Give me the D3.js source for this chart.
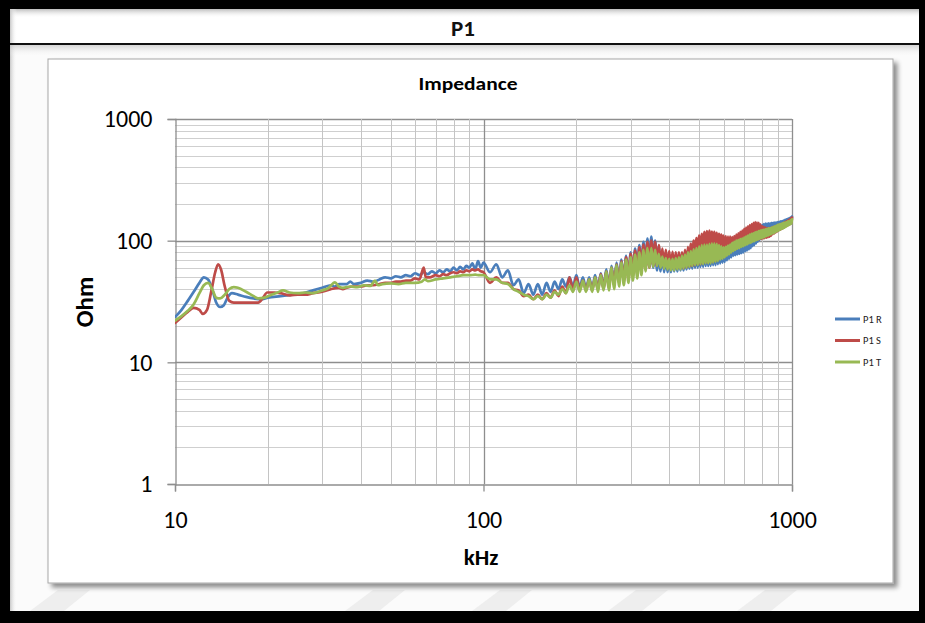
<!DOCTYPE html>
<html>
<head>
<meta charset="utf-8">
<script src="https://cdn.jsdelivr.net/npm/d3@7"></script>
<style>
  html, body { margin: 0; padding: 0; background: #000; }
  svg { display: block; }
</style>
</head>
<body>
<script>
// ---- Data: impedance (Ohm) vs frequency (kHz) for phases R, S, T ----
const seriesNames = ["P1 R", "P1 S", "P1 T"];
const seriesColors = ["#4a7ebb", "#be4b48", "#98b954"];

// Low-frequency part, [kHz, Ohm]
const lowR = [[10,23.5],[10.5,27],[11,32],[11.5,38],[12,45],[12.4,50],[12.8,48],[13.2,40],[13.6,31],[14,28.5],[14.4,29.5],[14.8,34],[15.3,37],[16,36],[17,34.5],[18,33.5],[19,33],[20,34],[22,35],[24,36],[26,37],[28,39],[30,41],[32,43],[33,42],[34,44],[36,44],[37,46],[38,44],[40,45],[42,47],[44,46],[46,48],[48,50],[50,49],[52,51],[54,50],[56,52],[58,51],[60,54],[62,52],[64,55],[66,53],[68,56],[70,54],[72,57],[74,55],[76,58],[78,56],[80,60],[82,57],[84,61],[86,58],[88,62],[90,60],[92,65],[94,58],[96,68],[98,60]];
const lowS = [[10,21],[10.5,23.5],[11,26],[11.5,28],[12,27],[12.3,25],[12.7,27],[13.1,38],[13.5,55],[13.8,64],[14.1,58],[14.5,42],[15,32],[15.5,31],[16.5,31],[17.5,31],[18.6,31],[19.3,34],[19.9,37.5],[21,37.5],[22,37],[23.6,35.5],[25,36],[26.5,36],[28,37],[30,38],[32,40],[34,41],[35,40],[36,41],[38,42],[40,42],[42,43],[44,43],[46,44],[48,45],[50,45],[52,46],[54,46],[56,47],[58,47],[60,49],[62,48],[64,60],[65,50],[67,50],[70,52],[72,51],[74,53],[76,52],[78,54],[80,55],[82,54],[84,56],[86,55],[88,57],[90,56],[92,58],[94,57],[96,58],[98,56]];
const lowT = [[10,22],[10.5,24],[11,26.5],[11.5,30],[12,37],[12.4,43],[12.8,45],[13.2,40],[13.6,34],[14,33.5],[14.5,36],[15,40],[15.5,41.5],[16,41],[17,38],[18,35],[18.6,33.5],[19.5,34],[20.3,35.5],[21.5,37.5],[22.4,39],[23.5,37.5],[25,37],[26.5,37.5],[28,37],[30,39],[31.5,41],[33,45.5],[34,42],[35,41],[37,42],[39,41.5],[41,43],[43,42.5],[44.5,47],[45.5,43],[47,44],[50,44.5],[53,44],[56,45],[60,45],[63,46],[64.5,48],[66,46.5],[70,48],[74,49],[78,50],[82,51],[86,52],[90,52],[94,52.5],[97,52]];

// High-frequency part: frequency grid (kHz) and resonance values (Ohm)
const gridHigh = [100,105,110,115,120,125,130,135,140,145,150,155,160,165,170,175,180,185,190,195,
  200,205,210,215,220,225,230,235,240,245,250,255,260,265,270,275,280,285,290,295,
  300,305,310,315,320,325,330,335,340,345,350,355,360,365,370,375,380,385,390,395,
  400,405,410,415,420,425,430,435,440,445,450,455,460,465,470,475,480,485,490,495,
  500,505,510,515,520,525,530,535,540,545,550,555,560,565,570,575,580,585,590,595,
  600,605,610,615,620,625,630,635,640,645,650,655,660,665,670,675,680,685,690,695,
  700,705,710,715,720,725,730,735,740,745,750,755,760,765,770,775,780,785,790,795,
  800,805,810,815,820,825,830,835,840,845,850,855,860,865,870,875,880,885,890,895,
  900,905,910,915,920,925,930,935,940,945,950,955,960,965,970,975,980,985,990,995,1000];
const highR = [66,55,64,50,57,43,48,37,44,36,44,36,45,38,46,40,48,42,50,42,
  52,41,50,40,50,40,52,40,54,41,58,42,62,44,66,46,70,48,75,50,
  80,53,86,55,92,58,98,60,104,62,108,60,100,57,90,56,80,55,75,55,
  72,55,72,56,72,56,72,57,72,57,74,58,76,59,78,59,80,60,82,60,
  84,61,86,61,88,62,89,62,90,62,91,63,92,63,91,64,90,65,88,66,
  86,67,87,69,88,71,90,73,91,75,93,76,94,77,95,78,96,79,98,80,
  100,82,102,83,105,85,108,87,112,90,116,92,120,95,124,98,128,101,132,104,
  135,107,137,109,138,111,138,112,139,114,139,116,140,117,140,119,141,121,141,123,
  142,124,143,126,144,127,145,129,146,131,148,133,150,135,151,137,153,139,155,141,158];
const highS = [55,45,50,45,45,40,39,35,36,33,36,33,37,34,39,35,42,37,50,39,
  50,39,47,39,48,39,50,40,53,40,56,41,60,43,64,45,68,46,73,48,
  78,51,83,53,88,56,93,58,98,60,100,62,98,62,92,61,86,60,84,59,
  82,58,81,58,80,59,80,59,80,59,84,60,89,61,94,62,100,63,105,64,
  110,64,114,65,118,66,120,66,121,67,119,67,118,68,116,69,114,71,112,72,
  110,74,109,76,108,78,108,81,107,83,109,85,112,87,115,89,118,91,121,92,
  125,94,128,95,131,97,134,98,137,100,140,101,142,102,141,102,140,103,136,103,
  132,104,130,105,128,106,127,107,127,108,127,110,128,113,129,115,131,117,132,119,
  134,121,135,123,137,125,138,127,140,129,142,131,144,133,146,135,149,137,152,139,155];
const highT = [52,48,48,45,44,40,38,36,35,33,35,33,36,34,38,36,40,37,43,38,
  46,38,47,38,48,38,50,38,52,39,56,39,60,40,63,42,66,43,70,45,
  73,47,77,49,80,52,84,56,87,60,87,61,84,62,78,60,74,59,72,58,
  71,57,71,57,72,58,73,58,75,59,77,60,80,61,82,62,85,63,87,63,
  90,64,92,64,93,65,93,65,94,65,95,66,95,67,94,68,92,70,90,71,
  88,73,89,75,91,77,93,80,96,82,98,84,100,86,101,87,103,89,104,90,
  106,92,108,93,110,95,112,96,114,98,115,99,117,101,118,102,120,104,121,105,
  122,106,123,107,124,109,125,110,126,112,127,113,128,115,130,116,131,118,133,120,
  135,121,136,123,137,125,139,126,140,128,141,130,142,132,144,134,145,136,147,138,150];

// Axis labels / ticks
const xTickValues = [10, 100, 1000];
const yTickValues = [1, 10, 100, 1000];

const lowSets = [lowR, lowS, lowT];
const highSets = [highR, highS, highT];

// ---- Layout ----
const W = 925, H = 623;
const plot = { left: 175, right: 792, top: 119, bottom: 484 };
const FONT = "Carlito, Calibri, Lato, 'Open Sans', sans-serif";

const svg = d3.select("body").append("svg")
  .attr("width", W).attr("height", H)
  .attr("viewBox", `0 0 ${W} ${H}`);

const defs = svg.append("defs");

// soft shading used in the panel
const gTop = defs.append("linearGradient").attr("id", "shadeTop")
  .attr("x1", 0).attr("y1", 0).attr("x2", 0).attr("y2", 1);
gTop.append("stop").attr("offset", 0).attr("stop-color", "#bdbdbd");
gTop.append("stop").attr("offset", 1).attr("stop-color", "#ffffff").attr("stop-opacity", 0);

const gLeft = defs.append("linearGradient").attr("id", "shadeLeft")
  .attr("x1", 0).attr("y1", 0).attr("x2", 1).attr("y2", 0);
gLeft.append("stop").attr("offset", 0).attr("stop-color", "#c8c8c8");
gLeft.append("stop").attr("offset", 1).attr("stop-color", "#ffffff").attr("stop-opacity", 0);

const shadow = defs.append("filter").attr("id", "boxShadow")
  .attr("x", "-5%").attr("y", "-5%").attr("width", "110%").attr("height", "110%");
shadow.append("feGaussianBlur").attr("in", "SourceAlpha").attr("stdDeviation", 2.5).attr("result", "b");
shadow.append("feOffset").attr("in", "b").attr("dx", 4).attr("dy", 4).attr("result", "o");
shadow.append("feComponentTransfer").attr("in", "o").attr("result", "s")
  .append("feFuncA").attr("type", "linear").attr("slope", 0.45);
const fm = shadow.append("feMerge");
fm.append("feMergeNode").attr("in", "s");
fm.append("feMergeNode").attr("in", "SourceGraphic");

defs.append("clipPath").attr("id", "plotClip")
  .append("rect")
  .attr("x", plot.left).attr("y", plot.top - 2)
  .attr("width", plot.right - plot.left + 2)
  .attr("height", plot.bottom - plot.top + 2);

// ---- Frame ----
svg.append("rect").attr("width", W).attr("height", H).attr("fill", "#000");
const inner = { x: 10, y: 9, w: 909, h: 602 };
svg.append("rect").attr("x", inner.x).attr("y", inner.y)
  .attr("width", inner.w).attr("height", inner.h).attr("fill", "#fbfbfb");

// title strip
svg.append("rect").attr("x", inner.x).attr("y", inner.y).attr("width", inner.w).attr("height", 34)
  .attr("fill", "#ffffff");
svg.append("rect").attr("x", inner.x).attr("y", inner.y).attr("width", inner.w).attr("height", 9)
  .attr("fill", "url(#shadeTop)");
svg.append("rect").attr("x", inner.x).attr("y", inner.y).attr("width", 7).attr("height", inner.h)
  .attr("fill", "url(#shadeLeft)");
svg.append("text").attr("x", 463).attr("y", 36)
  .attr("text-anchor", "middle")
  .attr("font-family", FONT).attr("font-weight", "bold").attr("font-size", 23)
  .attr("fill", "#111").text("P1");
svg.append("rect").attr("x", inner.x).attr("y", 43).attr("width", inner.w).attr("height", 2)
  .attr("fill", "#111");
svg.append("rect").attr("x", inner.x).attr("y", 45).attr("width", inner.w).attr("height", 12)
  .attr("fill", "url(#shadeTop)").attr("opacity", 0.6);

// faint diagonal stripes along the lower edge
const stripeX = [30, 345, 472, 608, 737];
svg.append("g").selectAll("path").data(stripeX).join("path")
  .attr("d", d => `M${d + 28},590 L${d + 60},590 L${d + 34},611 L${d},611 Z`)
  .attr("fill", "#eeeeee");

// ---- Chart box ----
svg.append("rect").attr("x", 48).attr("y", 59).attr("width", 845).attr("height", 524)
  .attr("fill", "#fff").attr("stroke", "#a8a8a8").attr("stroke-width", 1)
  .attr("filter", "url(#boxShadow)");

// ---- Scales ----
const x = d3.scaleLog().domain([10, 1000]).range([plot.left, plot.right]);
const y = d3.scaleLog().domain([1, 1000]).range([plot.bottom, plot.top]);

const isMajor = v => Math.abs(Math.log10(v) - Math.round(Math.log10(v))) < 1e-9;

// ---- Grid ----
const grid = svg.append("g");
const yGrid = y.ticks().filter(v => v > 1);
grid.selectAll("line.h").data(yGrid).join("line")
  .attr("x1", plot.left).attr("x2", plot.right)
  .attr("y1", d => Math.round(y(d)) + 0.5).attr("y2", d => Math.round(y(d)) + 0.5)
  .attr("stroke", d => isMajor(d) ? "#8e8e8e" : "#cfcfcf")
  .attr("stroke-width", d => isMajor(d) ? 1.3 : 1);
const xGrid = x.ticks().filter(v => v > 10);
grid.selectAll("line.v").data(xGrid).join("line")
  .attr("y1", plot.top).attr("y2", plot.bottom)
  .attr("x1", d => Math.round(x(d)) + 0.5).attr("x2", d => Math.round(x(d)) + 0.5)
  .attr("stroke", d => isMajor(d) ? "#8e8e8e" : "#c4c4c4")
  .attr("stroke-width", d => isMajor(d) ? 1.3 : 1);

// ---- Axes ----
const yAxis = d3.axisLeft(y).tickValues(yTickValues).tickFormat(d3.format("d"))
  .tickSize(8).tickPadding(15);
const gy = svg.append("g").attr("transform", `translate(${plot.left + 0.5},0)`).call(yAxis);
gy.select(".domain").attr("stroke", "#8e8e8e").attr("stroke-width", 1.3);
gy.selectAll(".tick line").attr("stroke", "#8e8e8e").attr("stroke-width", 1.3);
gy.selectAll(".tick text").attr("font-family", FONT).attr("font-size", 24).attr("fill", "#000");

const xAxis = d3.axisBottom(x).tickValues(xTickValues).tickFormat(d3.format("d"))
  .tickSize(7).tickPadding(19);
const gx = svg.append("g").attr("transform", `translate(0,${plot.bottom + 0.5})`).call(xAxis);
gx.select(".domain").attr("stroke", "#8e8e8e").attr("stroke-width", 1.3);
gx.selectAll(".tick line").attr("stroke", "#8e8e8e").attr("stroke-width", 1.3);
gx.selectAll(".tick text").attr("font-family", FONT).attr("font-size", 24).attr("fill", "#000");

// ---- Titles ----
svg.append("text").attr("x", 468).attr("y", 90).attr("text-anchor", "middle")
  .attr("font-family", FONT).attr("font-weight", "bold").attr("font-size", 19)
  .attr("textLength", 99).attr("lengthAdjust", "spacingAndGlyphs")
  .attr("fill", "#000").text("Impedance");
svg.append("text").attr("x", 481).attr("y", 565).attr("text-anchor", "middle")
  .attr("font-family", FONT).attr("font-weight", "bold").attr("font-size", 23)
  .attr("fill", "#000").text("kHz");
svg.append("text").attr("transform", "translate(93,302) rotate(-90)").attr("text-anchor", "middle")
  .attr("font-family", FONT).attr("font-weight", "bold").attr("font-size", 25)
  .attr("fill", "#000").text("Ohm");

// ---- Series ----
const seriesData = lowSets.map((low, i) =>
  low.concat(gridHigh.map((f, j) => [f, highSets[i][j]])));

const line = d3.line().curve(d3.curveMonotoneX).x(d => x(d[0])).y(d => y(d[1]));
svg.append("g").attr("clip-path", "url(#plotClip)")
  .selectAll("path").data(seriesData).join("path")
  .attr("d", line)
  .attr("fill", "none")
  .attr("stroke", (d, i) => seriesColors[i])
  .attr("stroke-width", 2.7)
  .attr("stroke-linejoin", "round")
  .attr("stroke-linecap", "round");

// ---- Legend ----
const legend = svg.append("g").attr("transform", "translate(835,319)");
const li = legend.selectAll("g").data(seriesNames).join("g")
  .attr("transform", (d, i) => `translate(0,${i * 21.5})`);
li.append("line").attr("x1", 0).attr("x2", 25).attr("y1", 0).attr("y2", 0)
  .attr("stroke", (d, i) => seriesColors[i]).attr("stroke-width", 3);
li.append("text").attr("x", 28).attr("y", 3.5)
  .attr("font-family", FONT).attr("font-size", 10.5).attr("fill", "#222").text(d => d);
</script>
</body>
</html>
